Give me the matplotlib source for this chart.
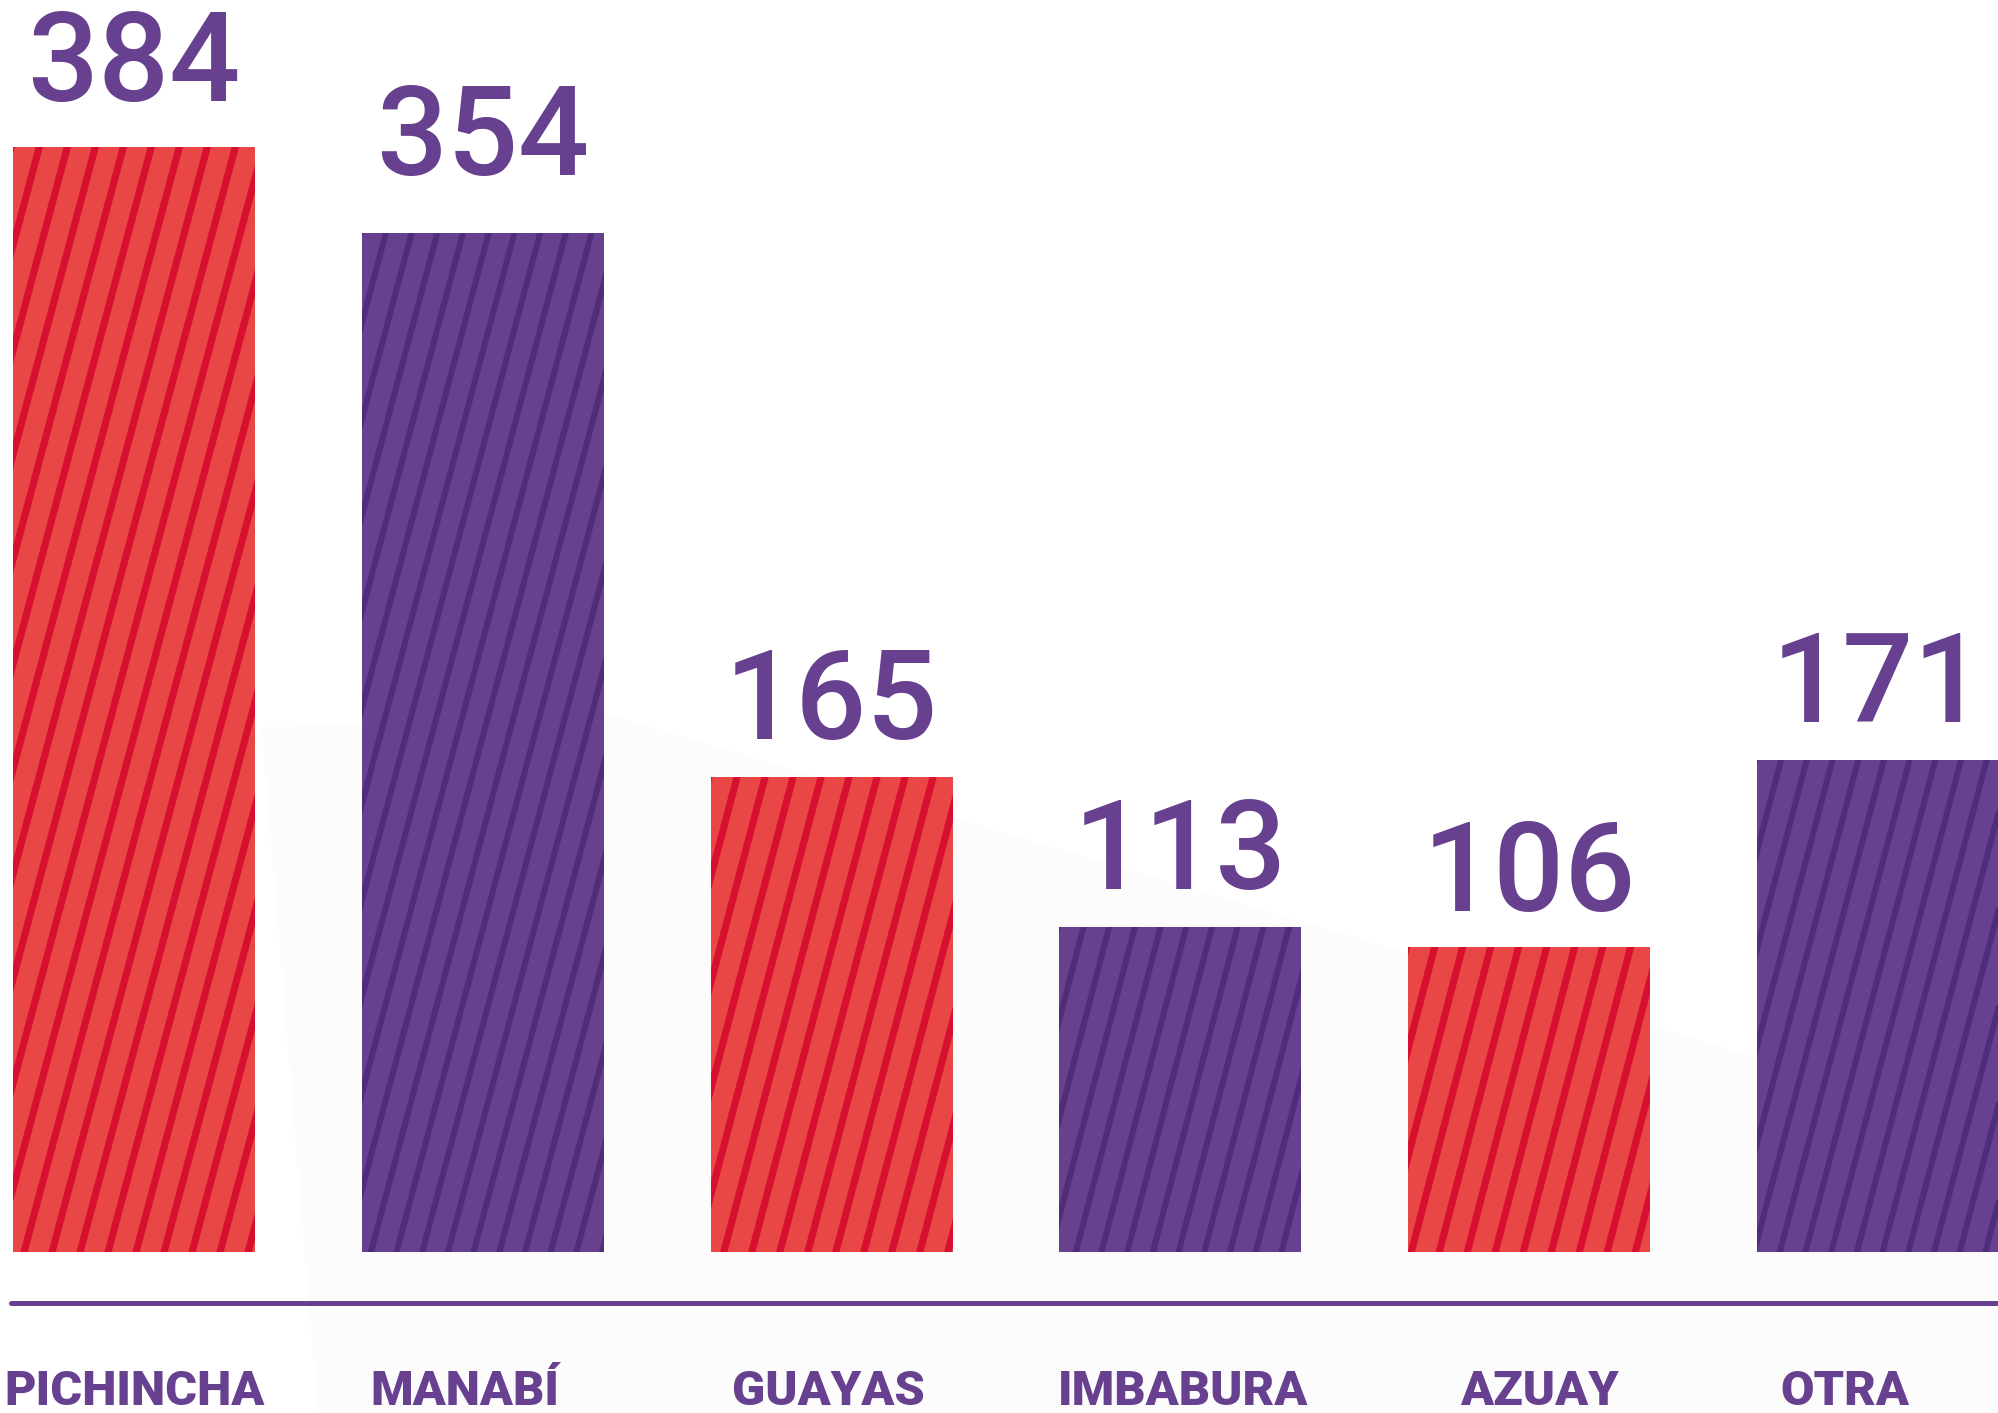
import numpy as np
import matplotlib.pyplot as plt
from matplotlib.collections import LineCollection
from matplotlib.patches import Polygon

# casos por provincia
provincias = ["PICHINCHA", "MANABÍ", "GUAYAS", "IMBABURA", "AZUAY", "OTRA"]
casos = [384, 354, 165, 113, 106, 171]

rojo = "#E94646"
rojo_raya = "#D7102F"
morado = "#67408F"
morado_raya = "#4E2D7A"

W, H = 1999, 1413
fig = plt.figure(figsize=(W / 100, H / 100), dpi=100)

ax = fig.add_axes([0, 0, 1, 1])
xmin, xmax = -0.384, 5.347
ymin, ymax = -55.9, 435.0
ax.set_xlim(xmin, xmax)
ax.set_ylim(ymin, ymax)
ax.axis("off")
ax.patch.set_alpha(0)

# sombra muy clara de fondo
sombra = [(262, 728), (600, 712), (W, 1130), (W, H), (318, H)]
ax.add_patch(Polygon([(px / W, 1 - py / H) for px, py in sombra],
                     closed=True, transform=fig.transFigure,
                     facecolor="#FCFCFC", edgecolor="none", zorder=0))

kx = W / (xmax - xmin)   # px por unidad x
ky = H / (ymax - ymin)   # px por unidad y

x = np.arange(len(casos))
ancho = 0.694
colores = [rojo if i % 2 == 0 else morado for i in range(len(casos))]
barras = ax.bar(x, casos, width=ancho, color=colores, zorder=2)

# rayas inclinadas dentro de cada barra
for i, (b, v) in enumerate(zip(barras, casos)):
    es_rojo = i % 2 == 0
    periodo = (28.0 if es_rojo else 25.7) / kx
    grosor = 5.1 if es_rojo else 4.3
    raya = rojo_raya if es_rojo else morado_raya
    dx = 0.27 * v * ky / kx
    x0 = b.get_x()
    inicios = np.arange(x0 - dx - periodo, x0 + ancho + periodo, periodo)
    segs = [[(s, -2), (s + dx, v + 2)] for s in inicios]
    lc = LineCollection(segs, colors=raya, linewidths=grosor, zorder=3)
    ax.add_collection(lc, autolim=False)
    lc.set_clip_path(b)

# valores (separacion sobre la barra en px)
sep = [46, 58, 38, 38, 36, 38]
for i, v in enumerate(casos):
    ax.text(i, v + sep[i] / ky, str(v), ha="center", va="baseline",
            fontsize=90, color=morado, family="Roboto", weight="medium")

# linea base
ax.plot([(11 - 134) / kx, xmax + 0.1], [-51 / ky] * 2, color=morado,
        lw=3.6, solid_capstyle="round", zorder=2)

# nombres de provincia (ligeros ajustes horizontales en px)
ajuste = [1, -18, -3, 3, 10, -33]
for i, p in enumerate(provincias):
    ax.text(i + ajuste[i] / kx, -153 / ky, p, ha="center", va="baseline",
            fontsize=35, color=morado, family="Roboto", weight="black")

fig.savefig("out.png", dpi=100, facecolor="white")
